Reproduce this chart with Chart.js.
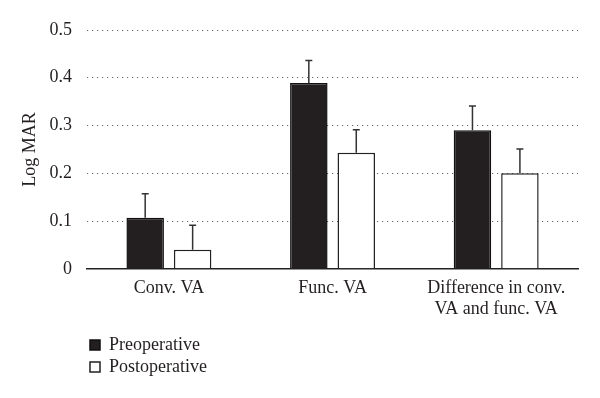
<!DOCTYPE html>
<html><head><meta charset="utf-8">
<script src="https://cdn.jsdelivr.net/npm/chart.js@4"></script>
<style>html,body{margin:0;padding:0;background:#fff}#wrap{width:600px;height:398px}</style>
</head><body><div id="wrap"><canvas id="c"></canvas></div>
<script>
const categories = ['Conv. VA', 'Func. VA', ['Difference in conv.', 'VA and func. VA']];
const seriesNames = ['Preoperative', 'Postoperative'];
const preValues = [0.107, 0.389, 0.290];
const preErrors = [0.050, 0.047, 0.051];
const postValues = [0.040, 0.243, 0.200];
const postErrors = [0.051, 0.048, 0.051];
const yTickLabels = ['0', '0.1', '0.2', '0.3', '0.4', '0.5'];
const yTitle = 'Log MAR';

const FONT = 'Liberation Serif';
const INK = '#231f20';

const errorBars = {
  id: 'errorBars',
  afterDatasetsDraw(chart) {
    const ctx = chart.ctx, y = chart.scales.y;
    chart.data.datasets.forEach((ds, di) => {
      const meta = chart.getDatasetMeta(di);
      if (meta.hidden) return;
      meta.data.forEach((bar, i) => {
        const top = y.getPixelForValue(ds.data[i] + ds.errors[i]);
        ctx.save();
        ctx.strokeStyle = '#333';
        ctx.lineWidth = 1.5;
        ctx.beginPath();
        ctx.moveTo(bar.x, bar.y);
        ctx.lineTo(bar.x, top);
        ctx.moveTo(bar.x - 3.5, top);
        ctx.lineTo(bar.x + 3.5, top);
        ctx.stroke();
        ctx.restore();
      });
    });
  }
};

const legendLayout = {
  id: 'legendLayout',
  afterInit(chart) {
    const lg = chart.legend;
    const orig = lg.update;
    lg.update = function (w, h, m) { return orig.call(this, Math.min(w, 160), h, m); };
  },
  afterLayout(chart) {
    const lg = chart.legend;
    lg.left = 86; lg.width = 160; lg.right = lg.left + lg.width;
  }
};

new Chart(document.getElementById('c'), {
  type: 'bar',
  data: {
    labels: categories,
    datasets: [
      { label: seriesNames[0], data: preValues, errors: preErrors,
        backgroundColor: INK, borderColor: '#111', borderWidth: 1.5,
        categoryPercentage: 0.58, barPercentage: 0.79 },
      { label: seriesNames[1], data: postValues, errors: postErrors,
        backgroundColor: '#ffffff', borderColor: '#222', borderWidth: 1.5,
        categoryPercentage: 0.58, barPercentage: 0.79 }
    ]
  },
  options: {
    responsive: true,
    maintainAspectRatio: false,
    animation: false,
    layout: { padding: { top: 30, right: 22, bottom: 12, left: 15 } },
    plugins: {
      tooltip: { enabled: false },
      legend: {
        position: 'bottom',
        align: 'start',
        labels: {
          font: { family: FONT, size: 18 },
          color: INK,
          boxWidth: 10,
          boxHeight: 10,
          padding: 4
        }
      }
    },
    scales: {
      x: {
        grid: { display: false, drawTicks: false },
        border: { display: true, color: '#222', width: 1.5 },
        ticks: { font: { family: FONT, size: 18 }, color: INK, padding: 8.5, maxRotation: 0, autoSkip: false },
        afterFit(scale) { scale.height += 3; }
      },
      y: {
        min: 0, max: 0.5,
        ticks: {
          stepSize: 0.1,
          font: { family: FONT, size: 18 }, color: INK, padding: 15,
          callback: (v, i) => yTickLabels[i]
        },
        grid: {
          drawTicks: false,
          color: (c) => (c.tick && c.tick.value === 0) ? 'rgba(0,0,0,0)' : '#666',
          lineWidth: 1
        },
        border: { display: false, dash: [1.2, 3.8] },
        title: {
          display: true, text: yTitle,
          font: { family: FONT, size: 18 }, color: INK,
          padding: { top: 4, bottom: -6 }
        }
      }
    }
  },
  plugins: [errorBars, legendLayout]
});
</script>
</body></html>
